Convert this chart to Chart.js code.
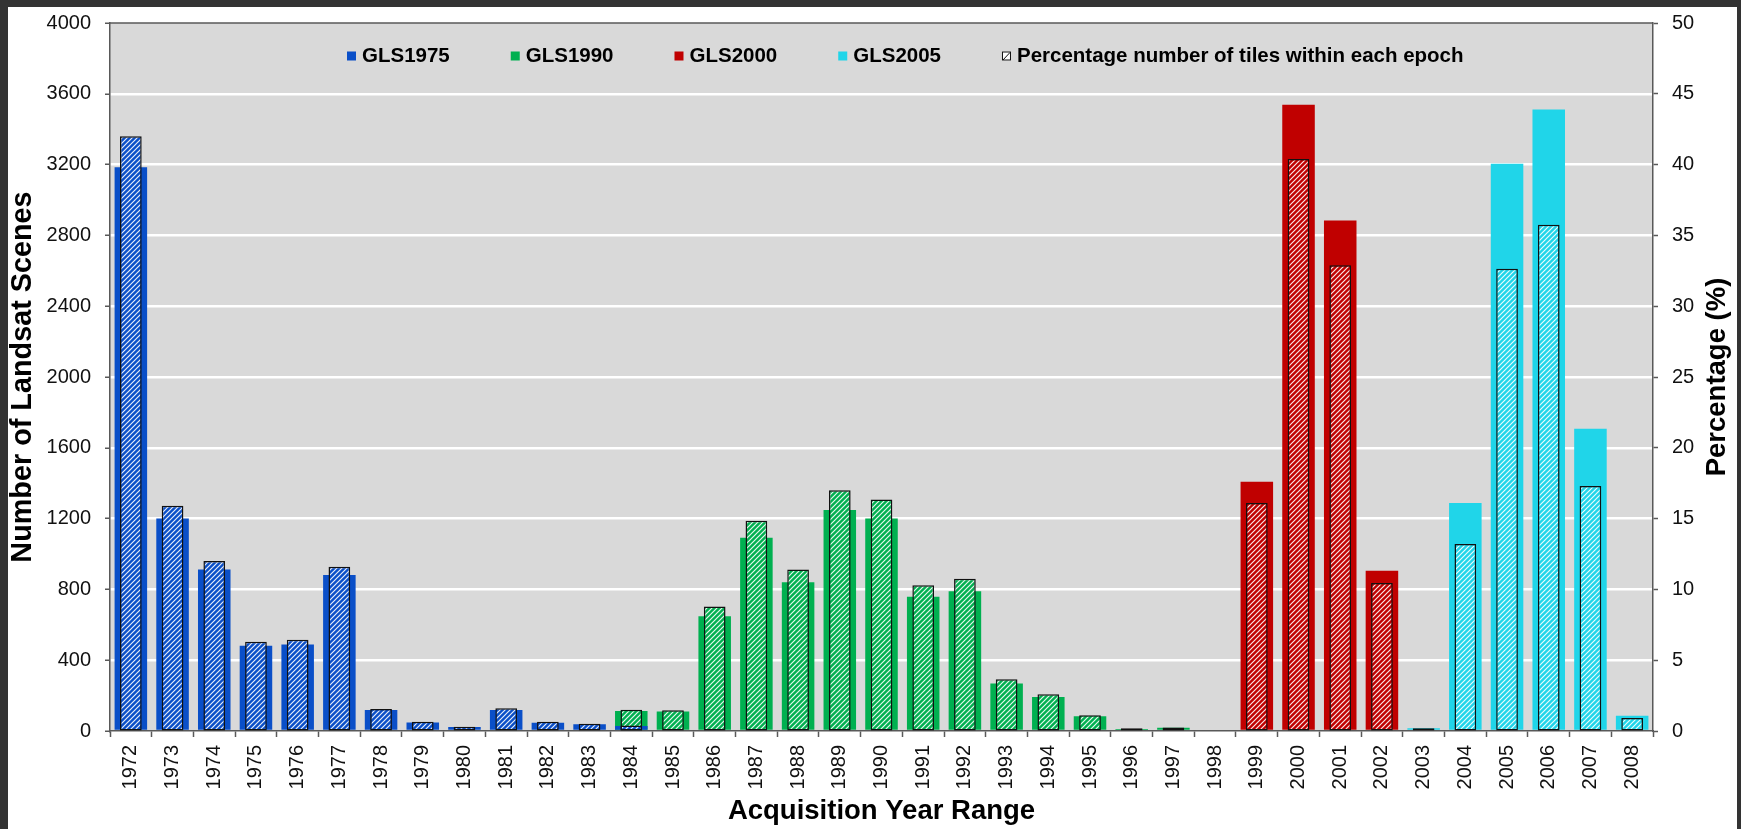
<!DOCTYPE html>
<html>
<head>
<meta charset="utf-8">
<title>Landsat scenes per acquisition year</title>
<script src="https://cdn.jsdelivr.net/npm/chart.js@4.4.1/dist/chart.umd.min.js"></script>
<style>
  html, body { margin: 0; padding: 0; background: #333; }
  #frame { position: absolute; left: 8px; top: 7px; width: 1729px; height: 822px; background: #fff; }
</style>
</head>
<body>
<div id="frame"><canvas id="glsChart" width="1729" height="822"></canvas></div>
<script>
// categorias (años de adquisición)
const years = ['1972', '1973', '1974', '1975', '1976', '1977', '1978', '1979', '1980', '1981',
  '1982', '1983', '1984', '1985', '1986', '1987', '1988', '1989', '1990', '1991',
  '1992', '1993', '1994', '1995', '1996', '1997', '1998', '1999', '2000', '2001',
  '2002', '2003', '2004', '2005', '2006', '2007', '2008'];

// number of scenes (left axis)
const gls1975Scenes = [3185, 1200, 912, 482, 488, 882, 118, 48, 22, 118, 46, 38, 28,
  null, null, null, null, null, null, null, null, null, null, null, null, null, null, null,
  null, null, null, null, null, null, null, null, null];
const gls1990Scenes = [null, null, null, null, null, null, null, null, null, null, null, null,
  113, 110, 648, 1092, 840, 1248, 1200, 758, 790, 268, 192, 84, 12, 18,
  null, null, null, null, null, null, null, null, null, null, null];
const gls2000Scenes = [null, null, null, null, null, null, null, null, null, null, null, null,
  null, null, null, null, null, null, null, null, null, null, null, null, null, null, null,
  1408, 3538, 2884, 906, null, null, null, null, null, null];
const gls2005Scenes = [null, null, null, null, null, null, null, null, null, null, null, null,
  null, null, null, null, null, null, null, null, null, null, null, null, null, null, null,
  null, null, null, null, 15, 1288, 3205, 3512, 1707, 86];

// percentage of tiles within each epoch (right axis)
const gls1975Pct = [42.0, 15.9, 12.0, 6.3, 6.45, 11.6, 1.55, 0.65, 0.3, 1.6, 0.65, 0.52, 0.38,
  null, null, null, null, null, null, null, null, null, null, null, null, null, null, null,
  null, null, null, null, null, null, null, null, null];
const gls1990Pct = [null, null, null, null, null, null, null, null, null, null, null, null,
  1.5, 1.47, 8.8, 14.85, 11.4, 17.0, 16.35, 10.3, 10.75, 3.65, 2.6, 1.12, 0.19, 0.25,
  null, null, null, null, null, null, null, null, null, null, null];
const gls2000Pct = [null, null, null, null, null, null, null, null, null, null, null, null,
  null, null, null, null, null, null, null, null, null, null, null, null, null, null, null,
  16.1, 40.4, 32.9, 10.45, null, null, null, null, null, null];
const gls2005Pct = [null, null, null, null, null, null, null, null, null, null, null, null,
  null, null, null, null, null, null, null, null, null, null, null, null, null, null, null,
  null, null, null, null, 0.19, 13.2, 32.65, 35.75, 17.3, 0.92];

const pctLabel = 'Percentage number of tiles within each epoch';
const blue = '#0a4fc8', green = '#00b050', red = '#c00000', cyan = '#20d5e9';
const axisGray = '#595959';
const fontFamily = "'Liberation Sans', Arial, sans-serif";
const plotTop = 16;

Chart.defaults.font.family = fontFamily;

// rayado diagonal blanco sobre el color de la serie
function hatch(color) {
  const c = document.createElement('canvas');
  c.width = 5; c.height = 5;
  const g = c.getContext('2d');
  g.fillStyle = color;
  g.fillRect(0, 0, 5, 5);
  g.strokeStyle = 'rgba(255,255,255,0.9)';
  g.lineWidth = 1.2;
  g.beginPath();
  g.moveTo(0, 5); g.lineTo(5, 0);
  g.moveTo(-1, 1); g.lineTo(1, -1);
  g.moveTo(4, 6); g.lineTo(6, 4);
  g.stroke();
  return g.createPattern(c, 'repeat');
}

function solid(label, data, color, order) {
  return { label: label, data: data, backgroundColor: color, yAxisID: 'y',
    grouped: false, categoryPercentage: 1, barPercentage: 0.78, order: order };
}

function hatched(data, color, order) {
  return { label: pctLabel, data: data, backgroundColor: hatch(color), yAxisID: 'y1',
    borderColor: '#111', borderWidth: 1.5, borderSkipped: false,
    grouped: false, categoryPercentage: 1, barPercentage: 0.52, order: order };
}

// ancho fijo del eje y sin margen extra arriba/abajo
function fixWidth(w) {
  return s => { s.width = w; s.paddingTop = 0; s.paddingBottom = 0; };
}

// fondo gris, borde superior, título derecho y leyenda dentro del área
const plotExtras = {
  id: 'plotExtras',
  beforeDraw(chart) {
    const { ctx, chartArea: a } = chart;
    ctx.save();
    ctx.fillStyle = '#d9d9d9';
    ctx.fillRect(a.left, a.top, a.width, a.height);
    ctx.restore();
  },
  afterDraw(chart) {
    const { ctx, chartArea: a } = chart;
    ctx.save();
    ctx.strokeStyle = axisGray;
    ctx.lineWidth = 1.5;
    ctx.beginPath();
    ctx.moveTo(a.left, a.top);
    ctx.lineTo(a.right, a.top);
    ctx.stroke();

    // right axis title, read bottom to top
    ctx.translate(a.right + 64, (a.top + a.bottom) / 2);
    ctx.rotate(-Math.PI / 2);
    ctx.font = 'bold 27.5px ' + fontFamily;
    ctx.fillStyle = '#000';
    ctx.textAlign = 'center';
    ctx.textBaseline = 'middle';
    ctx.fillText('Percentage (%)', 0, 0);
    ctx.restore();

    // legend
    const items = chart.data.datasets.filter(d => d.yAxisID === 'y')
      .map(d => ({ text: d.label, color: d.backgroundColor }));
    items.push({ text: pctLabel, color: null });
    ctx.save();
    ctx.font = 'bold 20.5px ' + fontFamily;
    ctx.textAlign = 'left';
    ctx.textBaseline = 'middle';
    let x = a.left + 237;
    const y = a.top + 33;
    items.forEach(it => {
      if (it.color) {
        ctx.fillStyle = it.color;
        ctx.fillRect(x, y - 4.5, 9, 9);
      } else {
        ctx.fillStyle = '#fff';
        ctx.fillRect(x, y - 4.5, 9, 9);
        ctx.strokeStyle = '#111';
        ctx.lineWidth = 1;
        ctx.strokeRect(x + 0.5, y - 4, 8, 8);
        ctx.beginPath();
        ctx.moveTo(x + 1, y + 4);
        ctx.lineTo(x + 8, y - 3.5);
        ctx.stroke();
      }
      ctx.fillStyle = '#000';
      ctx.fillText(it.text, x + 15, y);
      x += 15 + ctx.measureText(it.text).width + 61;
    });
    ctx.restore();
  }
};

const chart = new Chart(document.getElementById('glsChart'), {
  type: 'bar',
  data: {
    labels: years,
    datasets: [
      hatched(gls1975Pct, blue, 0),
      hatched(gls1990Pct, green, 1),
      hatched(gls2000Pct, red, 2),
      hatched(gls2005Pct, cyan, 3),
      solid('GLS1975', gls1975Scenes, blue, 4),
      solid('GLS1990', gls1990Scenes, green, 5),
      solid('GLS2000', gls2000Scenes, red, 6),
      solid('GLS2005', gls2005Scenes, cyan, 7)
    ]
  },
  plugins: [plotExtras],
  options: {
    responsive: false,
    animation: false,
    layout: { padding: { top: plotTop, left: 0, right: 0, bottom: 0 } },
    plugins: {
      legend: { display: false },
      tooltip: { enabled: false }
    },
    scales: {
      x: {
        grid: { display: true, drawOnChartArea: false, drawTicks: true, offset: true,
          tickLength: 6, tickColor: axisGray, tickWidth: 1.5 },
        border: { display: true, color: axisGray, width: 1.5 },
        ticks: { autoSkip: false, minRotation: 90, maxRotation: 90, padding: 8,
          color: '#111', font: { size: 20 } },
        title: { display: true, text: 'Acquisition Year Range', color: '#000',
          font: { size: 27.5, weight: 'bold', lineHeight: 1 }, padding: { top: 0, bottom: 4 } },
        afterFit: s => { s.height = 98; }
      },
      y: {
        position: 'left',
        min: 0,
        max: 4000,
        ticks: { stepSize: 400, padding: 14, color: '#111', font: { size: 20 },
          callback: v => String(v) },
        grid: {
          color: c => (c.tick && (c.tick.value === 0 || c.tick.value === 4000)) ? 'rgba(0,0,0,0)' : '#fff',
          lineWidth: 2.5, tickColor: axisGray, tickWidth: 1.5, tickLength: 5
        },
        border: { display: true, color: axisGray, width: 1.5 },
        title: { display: true, text: 'Number of Landsat Scenes', color: '#000',
          font: { size: 28.8, weight: 'bold', lineHeight: 1 }, padding: { top: 0.5, bottom: 0 } },
        afterFit: fixWidth(102)
      },
      y1: {
        position: 'right',
        min: 0,
        max: 50,
        ticks: { stepSize: 5, padding: 14, color: '#111', font: { size: 20 },
          callback: v => String(v) },
        grid: { drawOnChartArea: false, tickColor: axisGray, tickWidth: 1.5, tickLength: 5 },
        border: { display: true, color: axisGray, width: 1.5 },
        afterFit: fixWidth(84)
      }
    }
  }
});

// comprobar que el área empieza en plotTop
for (let i = 0; i < 3; i++) {
  const dy = chart.chartArea.top - plotTop;
  if (Math.abs(dy) < 0.5) break;
  chart.options.layout.padding.top -= dy;
  chart.update();
}
</script>
</body>
</html>
